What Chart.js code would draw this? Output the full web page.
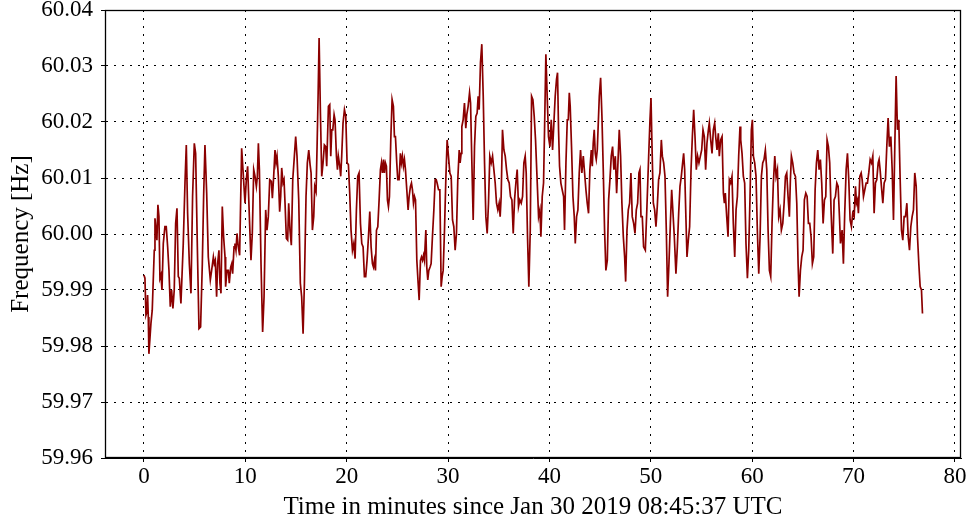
<!DOCTYPE html>
<html>
<head>
<meta charset="utf-8">
<script src="https://cdn.jsdelivr.net/npm/chart.js@4.4.1/dist/chart.umd.min.js"></script>
<style>
html,body{margin:0;padding:0;background:#fff;}
canvas{display:block;}
</style>
</head>
<body>
<canvas id="c" width="968" height="523"></canvas>
<script>
const xTitle = "Time in minutes since Jan 30 2019 08:45:37 UTC";
const yTitle = "Frequency [Hz]";
const xTicks = [0, 10, 20, 30, 40, 50, 60, 70, 80];
const yTicks = [59.96, 59.97, 59.98, 59.99, 60.00, 60.01, 60.02, 60.03, 60.04];

const timeMin = [
0.00,0.10,0.20,0.30,0.36,0.43,0.49,0.69,0.82,1.02,1.09,1.19,1.28,1.38,1.48,1.58,1.68,1.78,1.91,2.07,
2.20,2.34,2.47,2.60,2.73,2.86,2.99,3.13,3.26,3.39,3.49,3.65,3.88,4.05,4.18,4.31,4.48,4.64,4.80,4.97,
5.10,5.27,5.43,5.59,5.76,5.89,6.02,6.19,6.35,6.55,6.68,6.85,6.94,7.04,7.17,7.27,7.40,7.50,7.60,7.73,
7.86,8.00,8.06,8.19,8.33,8.42,8.56,8.66,8.75,8.89,8.98,9.08,9.18,9.31,
9.44,9.64,9.81,9.97,10.10,10.23,10.40,10.56,10.69,10.83,10.96,11.09,11.19,11.29,11.39,11.55,11.71,11.85,12.01,12.14,
12.27,12.41,12.57,12.67,12.80,12.93,13.03,13.13,13.26,13.39,13.49,13.59,13.72,13.82,13.92,14.05,14.18,14.28,14.41,14.54,
14.68,14.84,14.97,15.10,15.27,15.43,15.56,15.70,15.83,15.99,16.12,16.26,16.39,16.49,16.62,16.75,16.85,16.98,17.08,17.18,
17.28,17.41,17.54,17.67,17.80,17.93,18.03,18.20,18.33,18.43,18.53,18.63,18.76,18.85,
18.99,19.09,19.18,19.32,19.41,19.51,19.64,19.78,19.91,20.04,20.17,20.30,20.43,20.57,20.70,20.83,20.96,21.09,21.22,21.36,
21.49,21.62,21.75,21.88,22.01,22.15,22.28,22.41,22.54,22.64,22.74,22.84,22.94,23.07,23.20,23.33,23.43,23.53,23.63,23.72,
23.82,23.92,24.02,24.12,24.22,24.35,24.48,24.61,24.71,24.81,24.94,25.04,25.17,25.30,25.40,25.50,25.60,25.70,25.80,25.93,
26.06,26.16,26.29,26.39,26.49,26.59,26.69,26.79,26.92,27.05,27.15,27.28,27.38,27.48,27.58,27.67,27.81,27.90,28.00,28.10,
28.23,28.33,28.46,28.60,28.73,28.83,28.92,29.06,29.19,
29.32,29.42,29.52,29.65,29.78,29.91,30.04,30.18,30.31,30.44,30.57,30.70,30.83,30.96,31.10,31.19,31.29,31.36,31.49,31.62,
31.75,31.85,31.98,32.12,32.22,32.35,32.48,32.61,32.74,32.87,32.97,33.07,33.20,33.33,33.47,33.60,33.73,33.86,33.99,34.12,
34.26,34.39,34.52,34.65,34.78,34.91,35.04,35.14,35.24,35.37,35.51,35.64,35.77,35.90,36.03,36.16,36.30,36.43,36.56,36.69,
36.82,36.95,37.08,37.22,37.35,37.48,37.61,37.71,37.84,37.97,38.11,38.24,38.37,38.50,38.63,38.76,38.93,39.06,
39.16,39.29,39.42,39.52,39.65,39.78,39.91,40.05,40.18,40.31,40.44,40.57,40.70,40.80,40.90,41.00,41.13,41.26,41.40,41.49,
41.63,41.76,41.86,41.96,42.05,42.18,42.32,42.45,42.55,42.68,42.81,42.94,43.07,43.20,43.34,43.47,43.60,43.73,43.86,43.99,
44.13,44.23,44.32,44.42,44.52,44.62,44.72,44.82,44.92,45.05,45.18,45.31,45.44,45.57,45.71,45.84,45.97,46.10,46.23,46.36,
46.50,46.63,46.76,46.89,47.02,47.15,47.29,47.42,47.52,47.65,47.78,47.91,48.04,48.17,48.31,48.44,48.57,48.70,48.83,48.93,
49.03,49.16,49.29,49.46,49.62,49.79,49.92,50.02,50.12,50.25,50.38,50.51,50.64,50.77,50.90,51.04,51.14,51.27,51.40,51.53,
51.66,51.79,51.93,52.06,52.19,52.32,52.48,52.62,52.75,52.88,53.01,53.14,53.24,53.34,53.47,53.57,53.70,53.83,53.97,54.10,
54.23,54.36,54.49,54.62,54.75,54.89,55.02,55.15,55.28,55.41,55.54,55.68,55.77,55.91,56.04,56.17,56.30,56.40,56.53,56.66,
56.76,56.89,57.03,57.16,57.26,57.35,57.49,57.62,57.75,57.88,58.01,58.14,58.28,58.41,58.54,58.67,58.80,
58.87,59.00,59.13,59.26,59.39,59.53,59.66,59.79,59.92,60.02,60.12,60.25,60.38,60.51,60.65,60.78,60.91,61.04,61.17,61.30,
61.44,61.57,61.70,61.83,61.96,62.09,62.23,62.36,62.49,62.62,62.75,62.88,63.02,63.15,63.28,63.41,63.54,63.67,63.77,63.87,
64.00,64.13,64.27,64.40,64.53,64.63,64.76,64.89,65.02,65.15,65.29,65.42,65.55,65.68,65.81,65.94,66.07,66.21,66.34,66.47,
66.60,66.73,66.86,67.00,67.13,67.26,67.39,67.52,67.65,67.79,67.95,68.08,68.21,68.35,68.48,68.61,68.71,
68.87,69.00,69.13,69.27,69.40,69.53,69.66,69.79,69.92,70.06,70.19,70.29,70.39,70.48,70.62,70.75,70.85,70.98,71.11,71.24,
71.37,71.50,71.64,71.77,71.90,72.03,72.16,72.29,72.43,72.52,72.62,72.75,72.89,73.02,73.15,73.28,73.41,73.54,73.68,73.81,
73.94,74.07,74.20,74.33,74.46,74.60,74.73,74.86,74.99,75.12,75.26,75.39,75.52,75.65,75.78,75.91,76.04,76.18,76.31,76.44,
76.57,76.70,76.80
];

const freqHz = [
59.9927,59.9921,59.9855,59.9861,59.9891,59.9852,59.9786,59.9840,59.9864,59.9971,60.0028,60.0007,59.9989,60.0052,60.0031,59.9921,59.9927,59.9900,59.9983,60.0013,
60.0013,59.9977,59.9935,59.9870,59.9900,59.9867,59.9900,60.0019,60.0046,59.9924,59.9921,59.9876,59.9983,60.0091,60.0159,60.0037,59.9947,59.9894,60.0067,60.0162,
60.0144,59.9977,59.9831,59.9834,59.9947,60.0067,60.0159,60.0073,59.9959,59.9918,59.9935,59.9959,59.9947,59.9953,59.9888,59.9947,59.9971,59.9912,59.9894,60.0049,
59.9995,59.9959,59.9906,59.9935,59.9935,59.9912,59.9941,59.9947,59.9929,59.9977,59.9983,59.9971,60.0001,59.9977,
59.9962,60.0153,60.0103,60.0055,60.0097,60.0121,60.0031,59.9953,60.0001,60.0115,60.0103,60.0085,60.0103,60.0162,60.0115,59.9947,59.9825,59.9888,60.0043,60.0007,
60.0031,60.0097,60.0094,60.0064,60.0103,60.0150,60.0127,60.0139,60.0103,60.0040,60.0067,60.0118,60.0091,60.0097,60.0055,59.9992,59.9989,60.0055,60.0007,59.9980,
60.0097,60.0139,60.0174,60.0139,60.0061,59.9912,59.9888,59.9822,59.9912,60.0067,60.0127,60.0150,60.0124,60.0109,60.0007,60.0031,60.0085,60.0076,60.0156,60.0246,
60.0350,60.0216,60.0103,60.0127,60.0159,60.0156,60.0121,60.0228,60.0231,60.0139,60.0186,60.0186,60.0213,60.0204,
60.0139,60.0115,60.0139,60.0121,60.0103,60.0139,60.0198,60.0222,60.0210,60.0127,60.0124,60.0073,60.0007,59.9971,59.9983,59.9956,60.0043,60.0103,60.0109,60.0019,
59.9983,59.9977,59.9924,59.9924,59.9953,59.9995,60.0040,59.9977,59.9947,59.9941,59.9953,59.9935,60.0007,60.0013,60.0061,60.0115,60.0127,60.0109,60.0133,60.0109,
60.0127,60.0121,60.0061,60.0049,60.0067,60.0168,60.0240,60.0228,60.0174,60.0174,60.0127,60.0097,60.0097,60.0144,60.0127,60.0139,60.0121,60.0133,60.0115,60.0079,
60.0043,60.0067,60.0085,60.0091,60.0079,60.0055,60.0067,60.0061,59.9953,59.9912,59.9882,59.9953,59.9959,59.9953,59.9962,59.9953,60.0007,59.9941,59.9918,59.9935,
59.9941,59.9947,59.9995,60.0043,60.0097,60.0097,60.0091,60.0079,60.0079,
59.9906,59.9924,59.9935,60.0007,60.0097,60.0168,60.0139,60.0109,60.0103,60.0025,60.0013,59.9971,60.0001,60.0097,60.0150,60.0127,60.0144,60.0192,60.0204,60.0234,
60.0189,60.0213,60.0228,60.0252,60.0234,60.0127,60.0025,60.0156,60.0210,60.0216,60.0246,60.0222,60.0306,60.0339,60.0246,60.0127,60.0031,60.0001,60.0055,60.0139,
60.0127,60.0139,60.0115,60.0091,60.0055,60.0043,60.0055,60.0031,60.0067,60.0186,60.0150,60.0139,60.0115,60.0097,60.0091,60.0067,60.0061,60.0001,60.0061,60.0091,
60.0115,60.0049,60.0061,60.0055,60.0067,60.0127,60.0139,60.0109,59.9995,59.9906,60.0007,60.0246,60.0240,60.0210,60.0168,60.0109,60.0031,60.0043,
59.9995,60.0067,60.0091,60.0186,60.0321,60.0246,60.0174,60.0156,60.0204,60.0150,60.0198,60.0246,60.0276,60.0288,60.0186,60.0121,60.0091,60.0079,60.0067,60.0007,
60.0127,60.0204,60.0204,60.0252,60.0228,60.0156,60.0067,60.0031,59.9983,60.0031,60.0043,60.0109,60.0150,60.0109,60.0139,60.0109,60.0079,60.0055,60.0037,60.0115,
60.0150,60.0121,60.0162,60.0186,60.0144,60.0133,60.0150,60.0198,60.0246,60.0279,60.0210,60.0115,60.0007,59.9935,59.9953,60.0061,60.0097,60.0139,60.0156,60.0115,
60.0139,60.0073,60.0127,60.0186,60.0139,60.0055,59.9995,59.9959,59.9915,60.0007,60.0043,60.0055,60.0109,60.0031,60.0019,60.0001,60.0043,60.0055,60.0109,60.0115,
60.0031,60.0031,59.9977,59.9971,60.0049,60.0139,60.0204,60.0243,60.0156,60.0055,60.0043,60.0013,60.0049,60.0097,60.0109,60.0168,60.0139,60.0127,60.0103,60.0007,
59.9888,59.9947,60.0019,60.0079,60.0037,59.9995,59.9929,59.9977,60.0037,60.0085,60.0103,60.0127,60.0144,60.0115,60.0025,59.9959,59.9989,60.0013,60.0115,60.0174,
60.0222,60.0174,60.0115,60.0139,60.0127,60.0139,60.0150,60.0186,60.0174,60.0115,60.0162,60.0186,60.0198,60.0168,60.0144,60.0186,60.0198,60.0174,60.0150,60.0180,
60.0139,60.0168,60.0174,60.0073,60.0055,60.0073,60.0031,59.9995,60.0097,60.0091,60.0103,60.0019,59.9959,60.0043,60.0067,60.0139,60.0192,
60.0168,60.0144,60.0103,60.0091,59.9983,59.9921,59.9971,60.0067,60.0186,60.0204,60.0139,60.0127,60.0103,60.0007,59.9929,59.9995,60.0103,60.0127,60.0133,60.0150,
60.0115,60.0007,59.9935,59.9924,60.0019,60.0091,60.0139,60.0103,60.0115,60.0031,60.0043,60.0007,60.0019,60.0055,60.0103,60.0109,60.0067,60.0031,60.0097,60.0139,
60.0127,60.0109,60.0103,60.0055,59.9947,59.9888,59.9935,59.9959,59.9971,60.0061,60.0073,60.0067,60.0019,60.0019,59.9995,59.9947,59.9959,60.0079,60.0127,60.0150,
60.0115,60.0133,60.0091,60.0019,60.0061,60.0067,60.0168,60.0156,60.0127,60.0037,59.9965,60.0061,60.0067,60.0091,60.0085,60.0031,59.9983,
60.0007,59.9947,60.0037,60.0115,60.0144,60.0097,60.0025,60.0013,60.0037,60.0031,60.0085,60.0055,60.0061,60.0037,60.0103,60.0109,60.0097,60.0067,60.0079,60.0091,
60.0091,60.0109,60.0133,60.0127,60.0139,60.0037,60.0091,60.0097,60.0127,60.0133,60.0115,60.0085,60.0055,60.0091,60.0097,60.0156,60.0207,60.0156,60.0174,60.0115,
60.0025,60.0156,60.0282,60.0186,60.0204,60.0097,60.0007,59.9989,60.0031,60.0031,60.0055,59.9995,59.9971,60.0013,60.0031,60.0043,60.0109,60.0085,59.9995,59.9947,
59.9906,59.9900,59.9858
];

const xMin = -3.84, xMax = 80.6;
const yMin = 59.96, yMax = 60.04;

const points = timeMin.map((t, i) => ({x: t, y: freqHz[i]}));
const FONT = "'Liberation Serif', 'DejaVu Serif', serif";

const framePlugin = {
  id: 'frame',
  afterDraw(chart) {
    const a = chart.chartArea, ctx = chart.ctx;
    ctx.save();
    ctx.strokeStyle = '#000';
    ctx.lineWidth = 1.3;
    ctx.setLineDash([]);
    ctx.strokeRect(Math.round(a.left) + 0.5, Math.round(a.top) + 0.5,
                   Math.round(a.right - a.left) - 1, Math.round(a.bottom - a.top) - 1);
    ctx.restore();
  }
};

new Chart(document.getElementById('c'), {
  type: 'line',
  data: {
    datasets: [{
      data: points,
      borderColor: '#8b0000',
      borderWidth: 1.7,
      pointRadius: 0,
      tension: 0,
      fill: false
    }]
  },
  options: {
    responsive: false,
    animation: false,
    devicePixelRatio: 1,
    layout: {padding: {left: 0, right: 7, top: 10, bottom: 0}},
    plugins: {legend: {display: false}, tooltip: {enabled: false}},
    scales: {
      x: {
        type: 'linear',
        min: xMin, max: xMax,
        afterBuildTicks: (axis) => { axis.ticks = xTicks.map(v => ({value: v})); },
        afterFit: (scale) => { scale.height = 65; scale.paddingLeft = 0; scale.paddingRight = 0; },
        ticks: {
          color: '#000', font: {family: FONT, size: 23}, padding: 1,
          maxRotation: 0, autoSkip: false,
          callback: (v) => String(v)
        },
        grid: {color: '#000', lineWidth: 1, tickLength: 4, tickColor: '#000', tickBorderDash: [1, 0], drawOnChartArea: true},
        border: {display: true, color: '#000', dash: [2, 6]},
        title: {display: true, text: xTitle, color: '#000', font: {family: FONT, size: 25}, padding: {top: 0, bottom: 1}}
      },
      y: {
        type: 'linear',
        min: yMin, max: yMax,
        afterBuildTicks: (axis) => { axis.ticks = yTicks.map(v => ({value: v})); },
        afterFit: (scale) => { scale.width = 105; scale.paddingTop = 0; scale.paddingBottom = 0; },
        ticks: {
          color: '#000', font: {family: FONT, size: 23}, padding: 8,
          autoSkip: false,
          callback: (v) => Number(v).toFixed(2)
        },
        grid: {color: '#000', lineWidth: 1, tickLength: 4, tickColor: '#000', tickBorderDash: [1, 0]},
        border: {display: true, color: '#000', dash: [2, 6]},
        title: {display: true, text: yTitle, color: '#000', font: {family: FONT, size: 25}, padding: {top: 6, bottom: 0}}
      }
    }
  },
  plugins: [framePlugin]
});
</script>
</body>
</html>
